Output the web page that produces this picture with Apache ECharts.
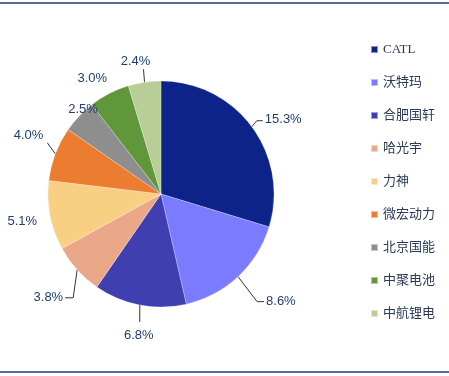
<!DOCTYPE html>
<html>
<head>
<meta charset="utf-8">
<script src="https://cdn.jsdelivr.net/npm/echarts@6/dist/echarts.min.js"></script>
<style>
  html, body { margin: 0; padding: 0; background: #fff; }
  #chart { width: 449px; height: 376px; }
</style>
</head>
<body>
<div id="chart"></div>
<script>
// 各企业装机份额 (%)
const names = ['CATL', '沃特玛', '合肥国轩', '哈光宇', '力神', '微宏动力', '北京国能', '中聚电池', '中航锂电']
const shares = [15.3, 8.6, 6.8, 3.8, 5.1, 4.0, 2.5, 3.0, 2.4]
const colors = ['#0D2389', '#7B7BFF', '#3F3FB0', '#EBA888', '#F9CF84', '#EC7C30', '#8E8E8E', '#5F973A', '#B9CE97']

// 标签摆放: [dx, dy, align, 折点dx, 折点dy, 终点dx, 终点dy] 相对扇区外缘锚点, null 表示无引线
const labelPlace = [
  [13, -7, 'left', 5, -6, 11, -6],
  [28, 25, 'left', 19, 25, 26, 25],
  [-1, 30, 'center', 0, 17, 0, 17],
  [-14, 28, 'right', -4, 28, -12, 28],
  [-13, 6, 'right', null],
  [-12, -18, 'right', -8, -11, -8, -11],
  [4, -7, 'center', null],
  [-17, -15, 'center', null],
  [-9, -21, 'center', -1, -13, -1, -13]
]

const chart = echarts.init(document.getElementById('chart'))

const option = {
  animation: false,
  color: colors,
  legend: {
    orient: 'vertical',
    left: 365,
    top: 38,
    itemWidth: 7,
    itemHeight: 7,
    itemGap: 20,
    icon: 'rect',
    textStyle: {
      fontFamily: '"Liberation Serif", "Noto Sans CJK SC", serif',
      fontSize: 13,
      color: '#2B3A5A'
    },
    data: names
  },
  graphic: [
    // 上下分隔线
    { type: 'line', shape: { x1: 0, y1: 3, x2: 449, y2: 3 }, style: { stroke: '#1F3A7A', lineWidth: 1.5 } },
    { type: 'line', shape: { x1: 0, y1: 372, x2: 449, y2: 372 }, style: { stroke: '#1F3A7A', lineWidth: 1.5 } }
  ],
  series: [
    {
      type: 'pie',
      center: [161, 194],
      radius: 113,
      startAngle: 90,
      clockwise: true,
      avoidLabelOverlap: false,
      itemStyle: {
        borderColor: 'rgba(255,255,255,0.5)',
        borderWidth: 0.5
      },
      label: {
        show: true,
        position: 'outside',
        overflow: 'none',
        fontFamily: '"Liberation Sans", Arial, sans-serif',
        fontSize: 13,
        color: '#1F3F6F',
        formatter: (p) => p.value.toFixed(1) + '%'
      },
      labelLine: {
        show: true,
        length: 8,
        length2: 8,
        lineStyle: { color: '#333', width: 1 }
      },
      labelLayout: (params) => {
        const pl = labelPlace[params.dataIndex]
        const a = params.labelLinePoints ? params.labelLinePoints[0] : [0, 0]
        const res = {
          x: a[0] + pl[0],
          y: a[1] + pl[1],
          align: pl[2],
          verticalAlign: 'middle'
        }
        if (pl[3] !== null) {
          res.labelLinePoints = [
            [a[0], a[1]],
            [a[0] + pl[3], a[1] + pl[4]],
            [a[0] + pl[5], a[1] + pl[6]]
          ]
        }
        return res
      },
      data: names.map((n, i) => ({
        name: n,
        value: shares[i],
        labelLine: { show: labelPlace[i][3] !== null }
      }))
    }
  ]
}

chart.setOption(option)
</script>
</body>
</html>
